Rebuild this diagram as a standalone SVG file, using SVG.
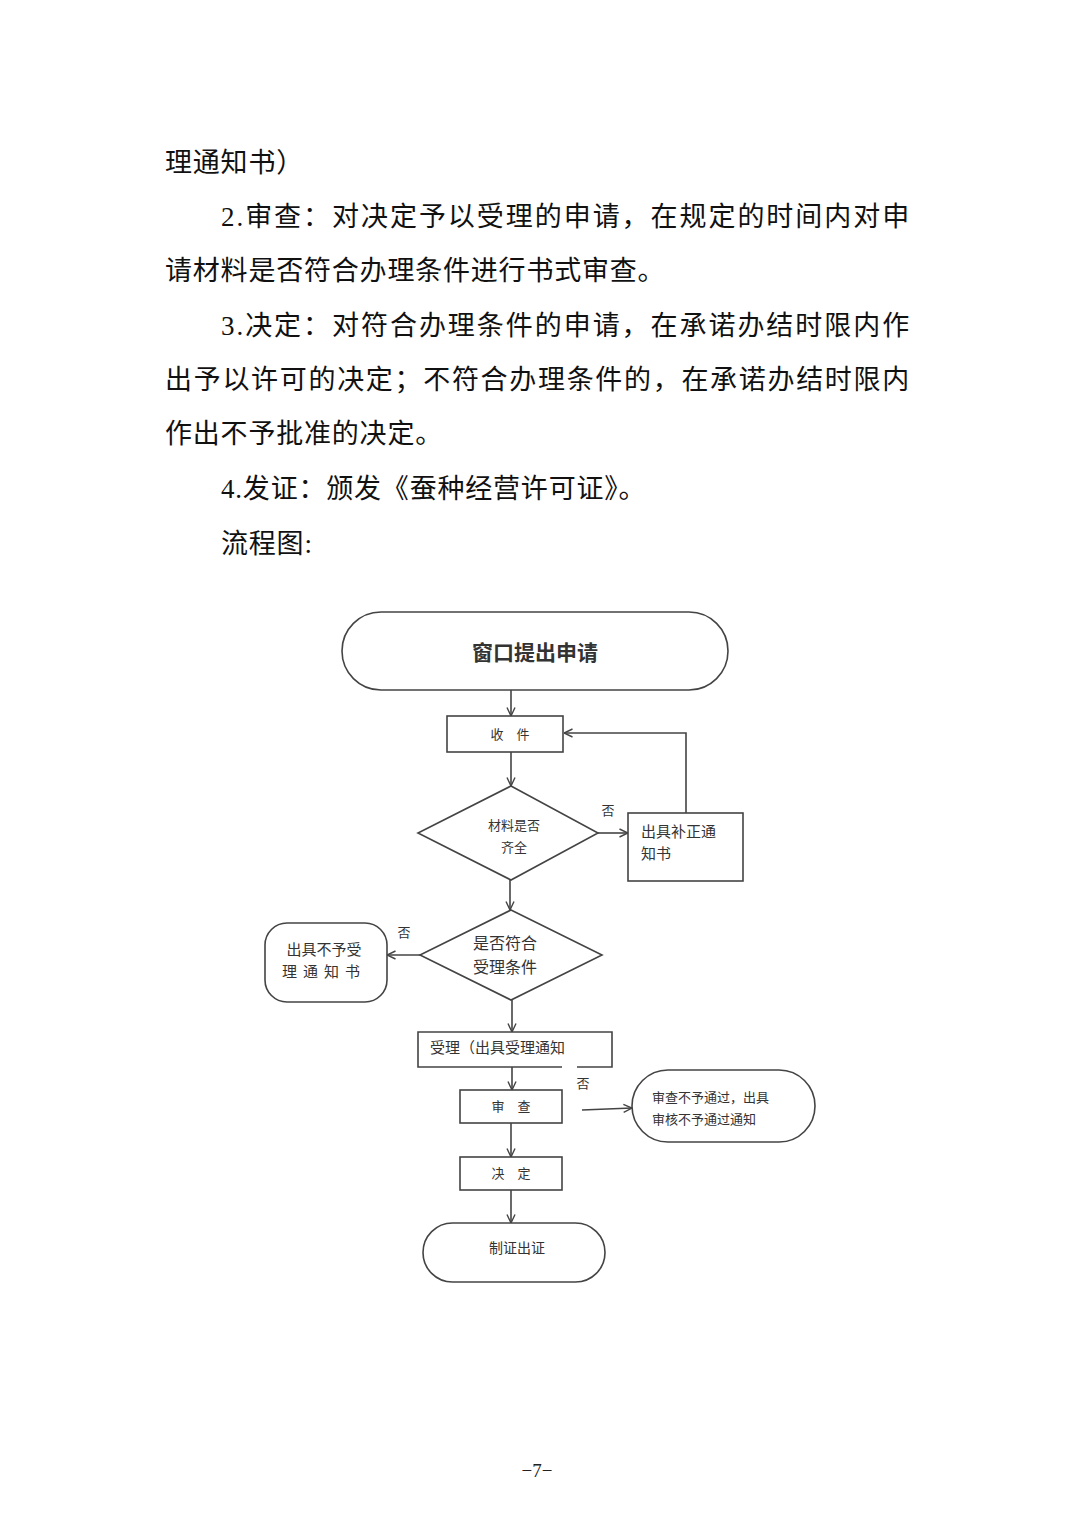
<svg xmlns="http://www.w3.org/2000/svg" width="1074" height="1520" viewBox="0 0 1074 1520">
<style>
.body{font-family:"Liberation Serif","Noto Sans CJK SC",serif;font-size:27px;fill:#111;letter-spacing:0.8px}
.t{font-family:"Liberation Serif","Noto Sans CJK SC",serif;fill:#333}
.s{fill:#fff;stroke:#444;stroke-width:1.6}
.c{fill:none;stroke:#444;stroke-width:1.6}
</style>
<defs>
<marker id="ah" viewBox="0 0 10 10" refX="9.5" refY="5" markerWidth="10" markerHeight="10" markerUnits="userSpaceOnUse" orient="auto">
<path d="M1,1 L9.5,5 L1,9" fill="none" stroke="#444" stroke-width="1.4"/>
</marker>
</defs>
<rect width="1074" height="1520" fill="#fff"/>
<g id="text-body">
<text class="body" x="165" y="172">理通知书）</text>
<text class="body" x="221" y="226" textLength="689" lengthAdjust="spacing">2.审查：对决定予以受理的申请，在规定的时间内对申</text>
<text class="body" x="165" y="280">请材料是否符合办理条件进行书式审查。</text>
<text class="body" x="221" y="335" textLength="689" lengthAdjust="spacing">3.决定：对符合办理条件的申请，在承诺办结时限内作</text>
<text class="body" x="165" y="389" textLength="745" lengthAdjust="spacing">出予以许可的决定；不符合办理条件的，在承诺办结时限内</text>
<text class="body" x="165" y="443">作出不予批准的决定。</text>
<text class="body" x="221" y="498">4.发证：颁发《蚕种经营许可证》。</text>
<text class="body" x="221" y="553">流程图:</text>
</g>
<g id="connectors">
<line class="c" x1="511" y1="690" x2="511" y2="716" marker-end="url(#ah)"/>
<line class="c" x1="511" y1="752" x2="511" y2="786" marker-end="url(#ah)"/>
<line class="c" x1="598" y1="833" x2="628" y2="833" marker-end="url(#ah)"/>
<polyline class="c" points="686,813 686,733 564,733" marker-end="url(#ah)"/>
<line class="c" x1="510" y1="880" x2="510" y2="910" marker-end="url(#ah)"/>
<line class="c" x1="420" y1="955" x2="387" y2="955" marker-end="url(#ah)"/>
<line class="c" x1="512" y1="1000" x2="512" y2="1032" marker-end="url(#ah)"/>
<line class="c" x1="512" y1="1067" x2="512" y2="1090" marker-end="url(#ah)"/>
<line class="c" x1="582" y1="1110" x2="632" y2="1108" marker-end="url(#ah)"/>
<line class="c" x1="511" y1="1123" x2="511" y2="1157" marker-end="url(#ah)"/>
<line class="c" x1="511" y1="1190" x2="511" y2="1223" marker-end="url(#ah)"/>
</g>
<g id="n-start">
<rect class="s" x="342" y="612" width="386" height="78" rx="39" ry="39"/>
<text class="t" x="535" y="660" font-size="21" font-weight="bold" text-anchor="middle" style="font-family:'Noto Sans CJK SC',sans-serif">窗口提出申请</text>
</g>
<g id="n-receive">
<rect class="s" x="447" y="716" width="116" height="36"/>
<text class="t" x="510" y="739" font-size="13" text-anchor="middle">收　件</text>
</g>
<g id="n-complete">
<polygon class="s" points="511,786 598,833 511,880 418,833"/>
<text class="t" x="514" y="830" font-size="13" text-anchor="middle">材料是否</text>
<text class="t" x="514" y="852" font-size="13" text-anchor="middle">齐全</text>
<text class="t" x="608" y="815" font-size="13" text-anchor="middle">否</text>
</g>
<g id="n-correct">
<rect class="s" x="628" y="813" width="115" height="68"/>
<text class="t" x="641" y="837" font-size="15">出具补正通</text>
<text class="t" x="641" y="859" font-size="15">知书</text>
</g>
<g id="n-accept-cond">
<polygon class="s" points="511,910 602,955 511,1000 420,955"/>
<text class="t" x="505" y="949" font-size="16" text-anchor="middle">是否符合</text>
<text class="t" x="505" y="973" font-size="16" text-anchor="middle">受理条件</text>
<text class="t" x="404" y="937" font-size="13" text-anchor="middle">否</text>
</g>
<g id="n-reject-accept">
<rect class="s" x="265" y="923" width="122" height="79" rx="22" ry="22"/>
<text class="t" x="324" y="955" font-size="15" text-anchor="middle">出具不予受</text>
<text class="t" x="324" y="977" font-size="15" text-anchor="middle" letter-spacing="6">理通知书</text>
</g>
<g id="n-accept">
<polyline class="c" points="562,1067 418,1067 418,1032 612,1032 612,1067 577,1067" style="fill:#fff"/>
<text class="t" x="430" y="1053" font-size="15">受理（出具受理通知</text>
<text class="t" x="583" y="1088" font-size="13" text-anchor="middle">否</text>
</g>
<g id="n-review">
<rect class="s" x="460" y="1090" width="102" height="33"/>
<text class="t" x="511" y="1111" font-size="13" text-anchor="middle">审　查</text>
</g>
<g id="n-reject-review">
<rect class="s" x="632" y="1070" width="183" height="72" rx="36" ry="36"/>
<text class="t" x="652" y="1102" font-size="13">审查不予通过，出具</text>
<text class="t" x="652" y="1124" font-size="13">审核不予通过通知</text>
</g>
<g id="n-decide">
<rect class="s" x="460" y="1157" width="102" height="33"/>
<text class="t" x="511" y="1178" font-size="13" text-anchor="middle">决　定</text>
</g>
<g id="n-issue">
<rect class="s" x="423" y="1223" width="182" height="59" rx="29.5" ry="29.5"/>
<text class="t" x="517" y="1253" font-size="14" text-anchor="middle">制证出证</text>
</g>
<text x="537" y="1477" font-family="Liberation Serif, serif" font-size="19" fill="#222" text-anchor="middle">−7−</text>
</svg>
